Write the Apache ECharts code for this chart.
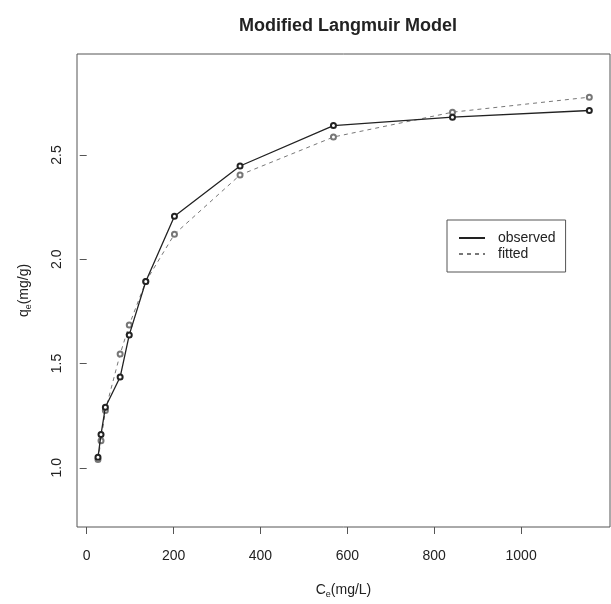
<!DOCTYPE html>
<html>
<head>
<meta charset="utf-8">
<script src="https://cdn.jsdelivr.net/npm/echarts@6/dist/echarts.min.js"></script>
<style>
  html, body { margin: 0; padding: 0; background: #fff; overflow: hidden; }
  #chart { width: 611px; height: 604px; }
</style>
</head>
<body>
<div id="chart"></div>
<script>
// equilibrium concentration Ce (mg/L)
var ceValues = [26, 33, 43, 77, 98, 136, 202, 353, 568, 842, 1157];
// observed qe (mg/g)
var observedQe = [1.05, 1.16, 1.29, 1.435, 1.637, 1.893, 2.206, 2.447, 2.641, 2.681, 2.713];
// fitted qe (mg/g)
var fittedQe = [1.04, 1.13, 1.275, 1.545, 1.685, 1.893, 2.12, 2.404, 2.586, 2.705, 2.777];
var xTicks = [0, 200, 400, 600, 800, 1000];
var yTicks = [1.0, 1.5, 2.0, 2.5];

function pairs(xs, ys) {
    var out = [];
    for (var i = 0; i < xs.length; i++) {
        out.push([xs[i], ys[i]]);
    }
    return out;
}

var fontFam = '"Liberation Sans", Arial, sans-serif';
var myChart = echarts.init(document.getElementById('chart'), null, { width: 611, height: 604 });

var option = {
    animation: false,
    backgroundColor: '#fff',
    title: {
        text: 'Modified Langmuir Model',
        left: 343,
        top: 12,
        textAlign: 'center',
        textStyle: { fontFamily: fontFam, fontSize: 18, fontWeight: 'bold', color: '#222' }
    },
    legend: {
        orient: 'vertical',
        left: 447,
        top: 220,
        padding: [11, 10, 11, 11],
        itemGap: 2,
        itemWidth: 26,
        itemHeight: 12,
        borderColor: '#555',
        borderWidth: 1,
        borderRadius: 0,
        itemStyle: { opacity: 0 },
        textStyle: { fontFamily: fontFam, fontSize: 14, lineHeight: 14, color: '#222', padding: [0, 0, 0, 8] },
        data: ['observed', 'fitted']
    },
    grid: {
        left: 77,
        right: 1,
        top: 54,
        bottom: 71,
        show: true,
        borderColor: '#555',
        borderWidth: 1
    },
    xAxis: {
        type: 'value',
        min: -22.3,
        max: 1204.6,
        name: '{n|C}{s|e}{n|(mg/L)}',
        nameLocation: 'middle',
        nameGap: 54,
        nameTextStyle: {
            rich: {
                n: { fontFamily: fontFam, fontSize: 14, color: '#222' },
                s: { fontFamily: fontFam, fontSize: 9, color: '#222', verticalAlign: 'bottom', padding: [9, 0, 0, 0] }
            }
        },
        splitLine: { show: false },
        axisLine: { show: false },
        axisTick: { show: true, inside: false, length: 7, customValues: xTicks, lineStyle: { color: '#555' } },
        axisLabel: {
            customValues: xTicks,
            margin: 22,
            fontFamily: fontFam,
            fontSize: 14,
            color: '#222',
            formatter: function (v) { return String(v); }
        }
    },
    yAxis: {
        type: 'value',
        min: 0.716,
        max: 2.984,
        name: '{n|q}{s|e}{n|(mg/g)}',
        nameLocation: 'middle',
        nameGap: 44,
        nameRotate: 90,
        nameTextStyle: {
            rich: {
                n: { fontFamily: fontFam, fontSize: 14, color: '#222' },
                s: { fontFamily: fontFam, fontSize: 9, color: '#222', verticalAlign: 'bottom', padding: [9, 0, 0, 0] }
            }
        },
        splitLine: { show: false },
        axisLine: { show: false },
        axisTick: { show: true, inside: false, length: 7, customValues: yTicks, lineStyle: { color: '#555' } },
        axisLabel: {
            customValues: yTicks,
            rotate: 90,
            margin: 13,
            fontFamily: fontFam,
            fontSize: 14,
            color: '#222',
            formatter: function (v) { return v.toFixed(1); }
        }
    },
    series: [
        {
            name: 'observed',
            type: 'line',
            data: pairs(ceValues, observedQe),
            symbol: 'emptyCircle',
            symbolSize: 5,
            showAllSymbol: true,
            z: 3,
            lineStyle: { color: '#222', width: 1.3 },
            itemStyle: { color: '#222', borderColor: '#222', borderWidth: 1 }
        },
        {
            name: 'fitted',
            type: 'line',
            data: pairs(ceValues, fittedQe),
            symbol: 'emptyCircle',
            symbolSize: 5,
            showAllSymbol: true,
            z: 2,
            lineStyle: { color: '#777', width: 1, type: [4, 4] },
            itemStyle: { color: '#777', borderColor: '#777', borderWidth: 1 }
        }
    ]
};

myChart.setOption(option);
</script>
</body>
</html>
